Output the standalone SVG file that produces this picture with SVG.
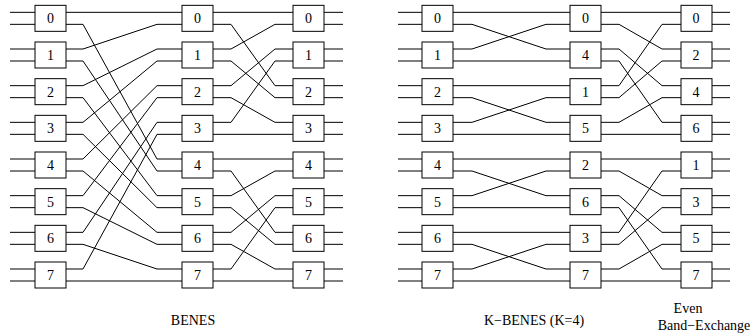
<svg xmlns="http://www.w3.org/2000/svg" width="753" height="335" viewBox="0 0 753 335">
<style>
.bx{fill:#fff;stroke:#000;stroke-width:1}
.ln{fill:none;stroke:#000;stroke-width:1}
.t{font-family:"Liberation Serif","Times New Roman",serif;font-size:14px;fill:#000;text-anchor:middle}
</style>
<defs>
<rect id="box" class="bx" x="0" y="0" width="31" height="26"/>
</defs>
<g id="connectors" class="ln">
<!-- inputs / outputs -->
<path d="M10 12.33H35M10 24.33H35M10 49H35M10 61H35M10 85.67H35M10 97.67H35M10 122.33H35M10 134.33H35M10 159H35M10 171H35M10 195.67H35M10 207.67H35M10 232.33H35M10 244.33H35M10 269H35M10 281H35"/>
<path d="M324 12.33H343M324 24.33H343M324 49H343M324 61H343M324 85.67H343M324 97.67H343M324 122.33H343M324 134.33H343M324 159H343M324 171H343M324 195.67H343M324 207.67H343M324 232.33H343M324 244.33H343M324 269H343M324 281H343"/>
<path d="M398 12.33H422M398 24.33H422M398 49H422M398 61H422M398 85.67H422M398 97.67H422M398 122.33H422M398 134.33H422M398 159H422M398 171H422M398 195.67H422M398 207.67H422M398 232.33H422M398 244.33H422M398 269H422M398 281H422"/>
<path d="M711 12.33H730M711 24.33H730M711 49H730M711 61H730M711 85.67H730M711 97.67H730M711 122.33H730M711 134.33H730M711 159H730M711 171H730M711 195.67H730M711 207.67H730M711 232.33H730M711 244.33H730M711 269H730M711 281H730"/>
<!-- BENES stage 1 -> 2 -->
<polyline points="66,12.33 83,12.33 157,12.33 182,12.33"/>
<polyline points="66,24.33 83,24.33 157,159 182,159"/>
<polyline points="66,49 83,49 157,24.33 182,24.33"/>
<polyline points="66,61 83,61 157,171 182,171"/>
<polyline points="66,85.67 83,85.67 157,49 182,49"/>
<polyline points="66,97.67 83,97.67 157,195.67 182,195.67"/>
<polyline points="66,122.33 83,122.33 157,61 182,61"/>
<polyline points="66,134.33 83,134.33 157,207.67 182,207.67"/>
<polyline points="66,159 83,159 157,85.67 182,85.67"/>
<polyline points="66,171 83,171 157,232.33 182,232.33"/>
<polyline points="66,195.67 83,195.67 157,97.67 182,97.67"/>
<polyline points="66,207.67 83,207.67 157,244.33 182,244.33"/>
<polyline points="66,232.33 83,232.33 157,122.33 182,122.33"/>
<polyline points="66,244.33 83,244.33 157,269 182,269"/>
<polyline points="66,269 83,269 157,134.33 182,134.33"/>
<polyline points="66,281 83,281 157,281 182,281"/>
<!-- BENES stage 2 -> 3 -->
<polyline points="213,12.33 231,12.33 275,12.33 293,12.33"/>
<polyline points="213,24.33 231,24.33 275,85.67 293,85.67"/>
<polyline points="213,49 231,49 275,24.33 293,24.33"/>
<polyline points="213,61 231,61 275,97.67 293,97.67"/>
<polyline points="213,85.67 231,85.67 275,49 293,49"/>
<polyline points="213,97.67 231,97.67 275,122.33 293,122.33"/>
<polyline points="213,122.33 231,122.33 275,61 293,61"/>
<polyline points="213,134.33 231,134.33 275,134.33 293,134.33"/>
<polyline points="213,159 231,159 275,159 293,159"/>
<polyline points="213,171 231,171 275,232.33 293,232.33"/>
<polyline points="213,195.67 231,195.67 275,171 293,171"/>
<polyline points="213,207.67 231,207.67 275,244.33 293,244.33"/>
<polyline points="213,232.33 231,232.33 275,195.67 293,195.67"/>
<polyline points="213,244.33 231,244.33 275,269 293,269"/>
<polyline points="213,269 231,269 275,207.67 293,207.67"/>
<polyline points="213,281 231,281 275,281 293,281"/>
<!-- K-BENES stage 1 -> 2 -->
<polyline points="453,12.33 472,12.33 546,12.33 570,12.33"/>
<polyline points="453,24.33 472,24.33 546,49 570,49"/>
<polyline points="453,49 472,49 546,24.33 570,24.33"/>
<polyline points="453,61 472,61 546,61 570,61"/>
<polyline points="453,85.67 472,85.67 546,85.67 570,85.67"/>
<polyline points="453,97.67 472,97.67 546,122.33 570,122.33"/>
<polyline points="453,122.33 472,122.33 546,97.67 570,97.67"/>
<polyline points="453,134.33 472,134.33 546,134.33 570,134.33"/>
<polyline points="453,159 472,159 546,159 570,159"/>
<polyline points="453,171 472,171 546,195.67 570,195.67"/>
<polyline points="453,195.67 472,195.67 546,171 570,171"/>
<polyline points="453,207.67 472,207.67 546,207.67 570,207.67"/>
<polyline points="453,232.33 472,232.33 546,232.33 570,232.33"/>
<polyline points="453,244.33 472,244.33 546,269 570,269"/>
<polyline points="453,269 472,269 546,244.33 570,244.33"/>
<polyline points="453,281 472,281 546,281 570,281"/>
<!-- Even Band-Exchange stage 2 -> 3 -->
<polyline points="601,12.33 619,12.33 662,12.33 681,12.33"/>
<polyline points="601,24.33 619,24.33 662,49 681,49"/>
<polyline points="601,49 619,49 662,85.67 681,85.67"/>
<polyline points="601,61 619,61 662,122.33 681,122.33"/>
<polyline points="601,85.67 619,85.67 662,24.33 681,24.33"/>
<polyline points="601,97.67 619,97.67 662,61 681,61"/>
<polyline points="601,122.33 619,122.33 662,97.67 681,97.67"/>
<polyline points="601,134.33 619,134.33 662,134.33 681,134.33"/>
<polyline points="601,159 619,159 662,159 681,159"/>
<polyline points="601,171 619,171 662,195.67 681,195.67"/>
<polyline points="601,195.67 619,195.67 662,232.33 681,232.33"/>
<polyline points="601,207.67 619,207.67 662,269 681,269"/>
<polyline points="601,232.33 619,232.33 662,171 681,171"/>
<polyline points="601,244.33 619,244.33 662,207.67 681,207.67"/>
<polyline points="601,269 619,269 662,244.33 681,244.33"/>
<polyline points="601,281 619,281 662,281 681,281"/>
</g>
<!-- BENES column 1 -->
<g id="benes-c1-0"><use href="#box" x="35" y="5.33"/><text class="t" x="50.5" y="23.3">0</text></g>
<g id="benes-c1-1"><use href="#box" x="35" y="42"/><text class="t" x="50.5" y="60">1</text></g>
<g id="benes-c1-2"><use href="#box" x="35" y="78.67"/><text class="t" x="50.5" y="96.7">2</text></g>
<g id="benes-c1-3"><use href="#box" x="35" y="115.33"/><text class="t" x="50.5" y="133.3">3</text></g>
<g id="benes-c1-4"><use href="#box" x="35" y="152"/><text class="t" x="50.5" y="170">4</text></g>
<g id="benes-c1-5"><use href="#box" x="35" y="188.67"/><text class="t" x="50.5" y="206.7">5</text></g>
<g id="benes-c1-6"><use href="#box" x="35" y="225.33"/><text class="t" x="50.5" y="243.3">6</text></g>
<g id="benes-c1-7"><use href="#box" x="35" y="262"/><text class="t" x="50.5" y="280">7</text></g>
<!-- BENES column 2 -->
<g id="benes-c2-0"><use href="#box" x="182" y="5.33"/><text class="t" x="197.5" y="23.3">0</text></g>
<g id="benes-c2-1"><use href="#box" x="182" y="42"/><text class="t" x="197.5" y="60">1</text></g>
<g id="benes-c2-2"><use href="#box" x="182" y="78.67"/><text class="t" x="197.5" y="96.7">2</text></g>
<g id="benes-c2-3"><use href="#box" x="182" y="115.33"/><text class="t" x="197.5" y="133.3">3</text></g>
<g id="benes-c2-4"><use href="#box" x="182" y="152"/><text class="t" x="197.5" y="170">4</text></g>
<g id="benes-c2-5"><use href="#box" x="182" y="188.67"/><text class="t" x="197.5" y="206.7">5</text></g>
<g id="benes-c2-6"><use href="#box" x="182" y="225.33"/><text class="t" x="197.5" y="243.3">6</text></g>
<g id="benes-c2-7"><use href="#box" x="182" y="262"/><text class="t" x="197.5" y="280">7</text></g>
<!-- BENES column 3 -->
<g id="benes-c3-0"><use href="#box" x="293" y="5.33"/><text class="t" x="308.5" y="23.3">0</text></g>
<g id="benes-c3-1"><use href="#box" x="293" y="42"/><text class="t" x="308.5" y="60">1</text></g>
<g id="benes-c3-2"><use href="#box" x="293" y="78.67"/><text class="t" x="308.5" y="96.7">2</text></g>
<g id="benes-c3-3"><use href="#box" x="293" y="115.33"/><text class="t" x="308.5" y="133.3">3</text></g>
<g id="benes-c3-4"><use href="#box" x="293" y="152"/><text class="t" x="308.5" y="170">4</text></g>
<g id="benes-c3-5"><use href="#box" x="293" y="188.67"/><text class="t" x="308.5" y="206.7">5</text></g>
<g id="benes-c3-6"><use href="#box" x="293" y="225.33"/><text class="t" x="308.5" y="243.3">6</text></g>
<g id="benes-c3-7"><use href="#box" x="293" y="262"/><text class="t" x="308.5" y="280">7</text></g>
<!-- K-BENES column 1 -->
<g id="kb-c1-0"><use href="#box" x="422" y="5.33"/><text class="t" x="437.5" y="23.3">0</text></g>
<g id="kb-c1-1"><use href="#box" x="422" y="42"/><text class="t" x="437.5" y="60">1</text></g>
<g id="kb-c1-2"><use href="#box" x="422" y="78.67"/><text class="t" x="437.5" y="96.7">2</text></g>
<g id="kb-c1-3"><use href="#box" x="422" y="115.33"/><text class="t" x="437.5" y="133.3">3</text></g>
<g id="kb-c1-4"><use href="#box" x="422" y="152"/><text class="t" x="437.5" y="170">4</text></g>
<g id="kb-c1-5"><use href="#box" x="422" y="188.67"/><text class="t" x="437.5" y="206.7">5</text></g>
<g id="kb-c1-6"><use href="#box" x="422" y="225.33"/><text class="t" x="437.5" y="243.3">6</text></g>
<g id="kb-c1-7"><use href="#box" x="422" y="262"/><text class="t" x="437.5" y="280">7</text></g>
<!-- K-BENES column 2 -->
<g id="kb-c2-0"><use href="#box" x="570" y="5.33"/><text class="t" x="585.5" y="23.3">0</text></g>
<g id="kb-c2-1"><use href="#box" x="570" y="42"/><text class="t" x="585.5" y="60">4</text></g>
<g id="kb-c2-2"><use href="#box" x="570" y="78.67"/><text class="t" x="585.5" y="96.7">1</text></g>
<g id="kb-c2-3"><use href="#box" x="570" y="115.33"/><text class="t" x="585.5" y="133.3">5</text></g>
<g id="kb-c2-4"><use href="#box" x="570" y="152"/><text class="t" x="585.5" y="170">2</text></g>
<g id="kb-c2-5"><use href="#box" x="570" y="188.67"/><text class="t" x="585.5" y="206.7">6</text></g>
<g id="kb-c2-6"><use href="#box" x="570" y="225.33"/><text class="t" x="585.5" y="243.3">3</text></g>
<g id="kb-c2-7"><use href="#box" x="570" y="262"/><text class="t" x="585.5" y="280">7</text></g>
<!-- Even Band-Exchange column -->
<g id="ebe-0"><use href="#box" x="681" y="5.33"/><text class="t" x="696" y="23.3">0</text></g>
<g id="ebe-1"><use href="#box" x="681" y="42"/><text class="t" x="696" y="60">2</text></g>
<g id="ebe-2"><use href="#box" x="681" y="78.67"/><text class="t" x="696" y="96.7">4</text></g>
<g id="ebe-3"><use href="#box" x="681" y="115.33"/><text class="t" x="696" y="133.3">6</text></g>
<g id="ebe-4"><use href="#box" x="681" y="152"/><text class="t" x="696" y="170">1</text></g>
<g id="ebe-5"><use href="#box" x="681" y="188.67"/><text class="t" x="696" y="206.7">3</text></g>
<g id="ebe-6"><use href="#box" x="681" y="225.33"/><text class="t" x="696" y="243.3">5</text></g>
<g id="ebe-7"><use href="#box" x="681" y="262"/><text class="t" x="696" y="280">7</text></g>
<!-- captions -->
<g id="captions">
<text class="t" x="193" y="325">BENES</text>
<text class="t" x="534" y="325">K−BENES (K=4)</text>
<text class="t" x="688" y="313">Even</text>
<text class="t" x="704" y="330">Band−Exchange</text>
</g>
</svg>
